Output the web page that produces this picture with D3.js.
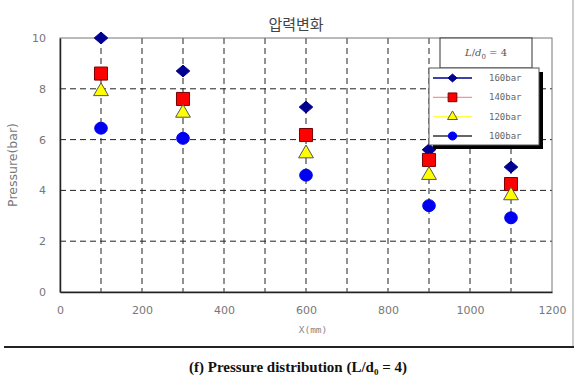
<!DOCTYPE html>
<html>
<head>
<meta charset="utf-8">
<title>압력변화</title>
<style>
  body { margin: 0; background: #fff; }
  svg { display: block; font-family: "Liberation Sans", "Noto Sans CJK KR", sans-serif; }
</style>
</head>
<body>
<main></main>
<script src="https://cdn.jsdelivr.net/npm/d3@7/dist/d3.min.js"></script>
<script>
// data
var xPositions = [100, 300, 600, 900, 1100];
var seriesNames = ["160bar", "140bar", "120bar", "100bar"];
var p160 = [10.0, 8.7, 7.28, 5.6, 4.92];
var p140 = [8.6, 7.6, 6.18, 5.2, 4.25];
var p120 = [7.9, 7.05, 5.45, 4.6, 3.8];
var p100 = [6.45, 6.05, 4.6, 3.4, 2.92];
var xTicks = [0, 200, 400, 600, 800, 1000, 1200];
var yTicks = [0, 2, 4, 6, 8, 10];

var width = 581, height = 378;
var m = { left: 60, right: 29, top: 38, bottom: 86 };

var svg = d3.select("main").append("svg")
    .attr("width", width).attr("height", height);

var x = d3.scaleLinear().domain([0, 1200]).range([m.left, width - m.right]);
var y = d3.scaleLinear().domain([0, 10]).range([height - m.bottom, m.top]);

// outer frame of the figure
svg.append("line").attr("x1", 573).attr("x2", 573).attr("y1", 0).attr("y2", 347)
    .attr("stroke", "#999").attr("stroke-width", 1);
svg.append("line").attr("x1", 4).attr("x2", 574).attr("y1", 347).attr("y2", 347)
    .attr("stroke", "#222").attr("stroke-width", 2);

// dashed grid
svg.append("g").selectAll("line").data(d3.range(100, 1200, 100)).join("line")
    .attr("x1", d => x(d)).attr("x2", d => x(d))
    .attr("y1", y(10)).attr("y2", y(0))
    .attr("stroke", "#222").attr("stroke-dasharray", "6,4");
svg.append("g").selectAll("line").data([2, 4, 6, 8]).join("line")
    .attr("x1", x(0)).attr("x2", x(1200))
    .attr("y1", d => y(d)).attr("y2", d => y(d))
    .attr("stroke", "#222").attr("stroke-dasharray", "6,4");

// plot border: top/right gray, left/bottom dark
svg.append("rect").attr("x", x(0)).attr("y", y(10))
    .attr("width", x(1200) - x(0)).attr("height", y(0) - y(10))
    .attr("fill", "none").attr("stroke", "#777");

var xAxis = svg.append("g").attr("transform", "translate(0," + y(0) + ")")
    .call(d3.axisBottom(x).tickValues(xTicks).tickFormat(d3.format("d")).tickSize(0).tickPadding(14));
var yAxis = svg.append("g").attr("transform", "translate(" + x(0) + ",0)")
    .call(d3.axisLeft(y).tickValues(yTicks).tickFormat(d3.format("d")).tickSize(0).tickPadding(14));
[xAxis, yAxis].forEach(function (a) {
    a.select(".domain").attr("stroke", "#222").attr("stroke-width", 1.5);
    a.selectAll("text").attr("fill", "#777").style("font-size", "11px")
        .style("font-family", "'DejaVu Sans', sans-serif");
});

// titles
svg.append("text").attr("x", 296).attr("y", 30).attr("text-anchor", "middle")
    .attr("fill", "#444").style("font-size", "15px")
    .style("font-family", "'Noto Sans CJK KR', sans-serif").text("압력변화");
svg.append("text").attr("x", 313).attr("y", 333).attr("text-anchor", "middle")
    .attr("fill", "#888").style("font-size", "9.5px")
    .style("font-family", "'DejaVu Sans Mono', monospace").text("X(mm)");
svg.append("text").attr("transform", "translate(17," + 165 + ") rotate(-90)")
    .attr("text-anchor", "middle").attr("fill", "#777").style("font-size", "12.5px")
    .style("font-family", "'DejaVu Sans', sans-serif").text("Pressure(bar)");

// markers
var sym = {
    "160bar": { shape: d3.symbolDiamond, size: 40, fill: "#000090", stroke: "#000090", line: "#000090", sx: 2.0, sy: 1.0 },
    "140bar": { shape: d3.symbolSquare, size: 170, fill: "#f00", stroke: "#700", line: "#ff9090", sx: 1, sy: 1 },
    "120bar": { shape: d3.symbolTriangle, size: 95, fill: "#ff0", stroke: "#555", line: "#ffff40", sx: 1, sy: 1 },
    "100bar": { shape: d3.symbolCircle, size: 125, fill: "#0000f0", stroke: "#0000f0", line: "#333", sx: 1, sy: 0.95 }
};
var allSeries = [p160, p140, p120, p100];
allSeries.forEach(function (vals, i) {
    var s = sym[seriesNames[i]];
    svg.append("g").selectAll("path").data(vals).join("path")
        .attr("transform", (d, j) => "translate(" + x(xPositions[j]) + "," + y(d) + ") scale(" + s.sx + "," + s.sy + ")")
        .attr("d", d3.symbol().type(s.shape).size(s.size))
        .attr("fill", s.fill).attr("stroke", s.stroke).attr("stroke-width", 1)
        .attr("vector-effect", "non-scaling-stroke");
});

// L/d0 box
var lb = svg.append("g");
lb.append("rect").attr("x", 440).attr("y", y(10)).attr("width", 92).attr("height", 30)
    .attr("fill", "#fff").attr("stroke", "#333");
var t = lb.append("text").attr("x", 486).attr("y", 56).attr("text-anchor", "middle")
    .attr("fill", "#555").style("font-size", "10px")
    .style("font-family", "'DejaVu Serif', serif");
t.append("tspan").style("font-style", "italic").text("L");
t.append("tspan").text("/");
t.append("tspan").style("font-style", "italic").text("d");
t.append("tspan").attr("dy", 3).style("font-size", "7px").text("0");
t.append("tspan").attr("dy", -3).text(" = 4");

// legend
var lg = svg.append("g");
lg.append("rect").attr("x", 433).attr("y", 72).attr("width", 110).attr("height", 77).attr("fill", "#000");
lg.append("rect").attr("x", 429).attr("y", 68).attr("width", 110).attr("height", 77)
    .attr("fill", "#fff").attr("stroke", "#555");
var ly = d3.scalePoint().domain(seriesNames).range([78, 136]);
seriesNames.forEach(function (n) {
    var s = sym[n];
    lg.append("line").attr("x1", 433).attr("x2", 472).attr("y1", ly(n)).attr("y2", ly(n))
        .attr("stroke", s.line).attr("stroke-width", 1.3);
    lg.append("path").attr("transform", "translate(452.5," + ly(n) + ") scale(" + s.sx + "," + s.sy + ")")
        .attr("d", d3.symbol().type(s.shape).size(s.size * 0.45))
        .attr("fill", s.fill).attr("stroke", s.stroke)
        .attr("vector-effect", "non-scaling-stroke");
    lg.append("text").attr("x", 489).attr("y", ly(n) + 3).attr("fill", "#666")
        .style("font-size", "9px").style("font-family", "'DejaVu Sans Mono', monospace").text(n);
});

// caption under the frame
svg.append("text").attr("x", 298).attr("y", 372).attr("text-anchor", "middle")
    .attr("fill", "#111").style("font-size", "15px").style("font-weight", "bold")
    .style("font-family", "'Liberation Serif', serif").text("(f) Pressure distribution (L/d\u2080 = 4)");
</script>
</body>
</html>
